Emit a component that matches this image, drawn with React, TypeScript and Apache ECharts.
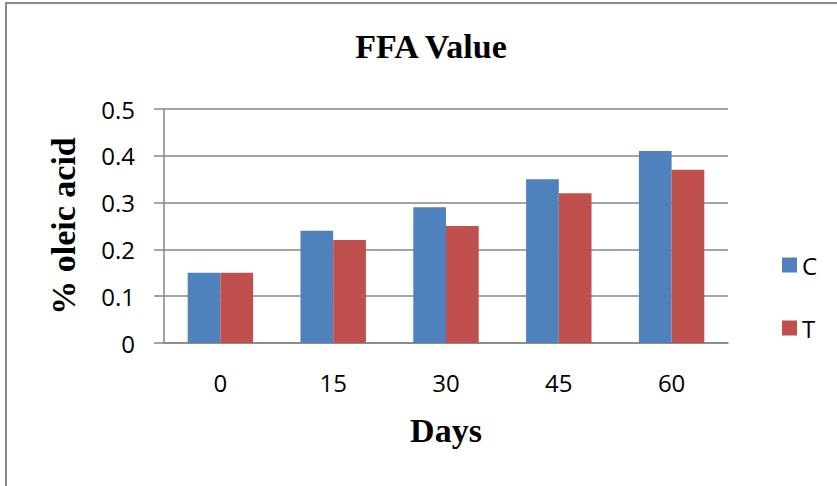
import React, { useEffect, useRef } from "react";
import * as echarts from "echarts";

const categories = ["0", "15", "30", "45", "60"];
const seriesC = [0.15, 0.24, 0.29, 0.35, 0.41];
const seriesT = [0.15, 0.22, 0.25, 0.32, 0.37];
const seriesNames = ["C", "T"];
const colors = ["#4F81BD", "#C0504D"];

export default function App() {
  const ref = useRef<HTMLDivElement>(null);
  useEffect(() => {
    if (!ref.current) return;
    const chart = echarts.init(ref.current, undefined, { renderer: "svg" });
    const sansFont = "'Open Sans', 'Liberation Sans', sans-serif";
    const serifFont = "'Liberation Serif', 'Times New Roman', serif";
    chart.setOption({
      animation: false,
      backgroundColor: "#ffffff",
      title: {
        text: "FFA Value",
        left: 426,
        top: 24,
        textAlign: "center",
        textStyle: { fontFamily: serifFont, fontWeight: "bold", fontSize: 34, color: "#000" },
      },
      graphic: [
        {
          type: "polyline",
          shape: { points: [[6, 1000], [6, 3], [1200, 3]] },
          style: { fill: "none", stroke: "#8a8a8a", lineWidth: 2 },
          silent: true,
        },
      ],
      legend: {
        orient: "vertical",
        left: 777,
        top: 248,
        itemWidth: 15,
        itemHeight: 15,
        itemGap: 39,
        icon: "rect",
        data: seriesNames,
        textStyle: { fontFamily: sansFont, fontSize: 24, color: "#000", lineHeight: 15 },
      },
      grid: { left: 164, right: 109, top: 109, bottom: 143, containLabel: false },
      xAxis: {
        type: "category",
        data: categories,
        name: "Days",
        nameLocation: "middle",
        nameGap: 70,
        nameTextStyle: { fontFamily: serifFont, fontWeight: "bold", fontSize: 34, color: "#000" },
        axisLine: { lineStyle: { color: "#868686", width: 1.5 } },
        axisTick: { show: false },
        axisLabel: { fontFamily: sansFont, fontSize: 24, color: "#000", margin: 27 },
      },
      yAxis: {
        type: "value",
        min: 0,
        max: 0.5,
        interval: 0.1,
        name: "% oleic acid",
        nameLocation: "middle",
        nameGap: 84,
        nameRotate: 90,
        nameTextStyle: { fontFamily: serifFont, fontWeight: "bold", fontSize: 34, color: "#000" },
        axisLine: { show: true, lineStyle: { color: "#868686", width: 1.5 } },
        axisTick: { show: true, length: 10, lineStyle: { color: "#868686", width: 1.5 } },
        axisLabel: { fontFamily: sansFont, fontSize: 24, color: "#000", margin: 29 },
        splitLine: { show: true, lineStyle: { color: "#868686", width: 1.5 } },
      },
      series: [
        {
          name: seriesNames[0],
          type: "bar",
          data: seriesC,
          itemStyle: { color: colors[0] },
          barGap: "0%",
          barCategoryGap: "42%",
        },
        {
          name: seriesNames[1],
          type: "bar",
          data: seriesT,
          itemStyle: { color: colors[1] },
          barGap: "0%",
          barCategoryGap: "42%",
        },
      ],
    });
    return () => chart.dispose();
  }, []);
  return (
    <div
      ref={ref}
      style={{ position: "fixed", left: 0, top: 0, width: 837, height: 486 }}
    />
  );
}
